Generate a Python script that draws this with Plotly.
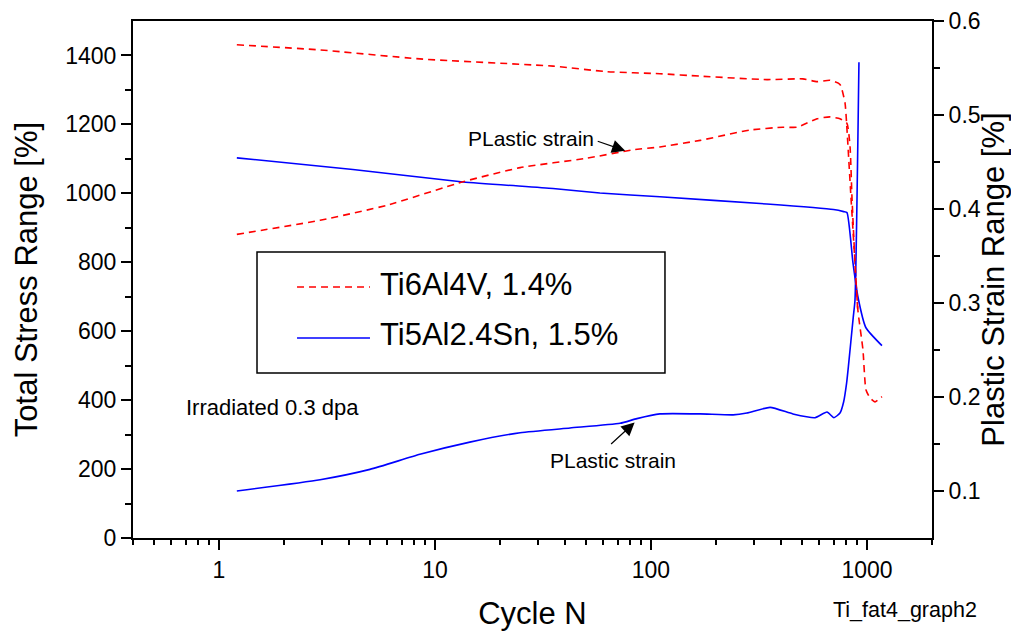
import numpy as np
import plotly.graph_objects as go

# Ti6Al4V, 1.4 % total strain -- total stress range (left axis)
ti64_stress_n = [1.21, 2.94, 8.52, 35.2, 62.5, 110, 169, 344, 505, 587, 674, 750,
                 791, 808, 843, 880, 908, 958, 989, 1032, 1089, 1173]
ti64_stress = [1431, 1416, 1390, 1369, 1353, 1347, 1340, 1330, 1332, 1324, 1328, 1316,
               1263, 1185, 990, 799, 660, 546, 430, 407, 395, 410]

# Ti6Al4V -- plastic strain range (right axis)
ti64_plastic_n = [1.21, 2.94, 6.0, 13.5, 24.8, 50.5, 82.5, 110, 169, 287, 408, 474,
                  587, 674, 750, 808, 835, 852, 880, 908]
ti64_plastic = [0.373, 0.388, 0.404, 0.429, 0.444, 0.454, 0.463, 0.466, 0.473, 0.484,
                0.487, 0.487, 0.496, 0.498, 0.496, 0.491, 0.466, 0.413, 0.343, 0.289]

# Ti5Al2.4Sn, 1.5 % total strain -- total stress range (left axis)
ti5_stress_n = [1.21, 4.17, 13.5, 35.2, 58, 110, 344, 700, 780, 808, 861, 908, 989, 1173]
ti5_stress = [1103, 1069, 1033, 1014, 1001, 990, 969, 953, 947, 944, 799, 700, 610, 558]

# Ti5Al2.4Sn -- plastic strain range (right axis)
ti5_plastic_n = [1.21, 2.94, 5.0, 8.52, 14.5, 24.8, 42.2, 71.9, 86.1, 110, 169, 240,
                 278, 356, 454, 575, 653, 703, 750, 780, 805, 820, 864, 880, 918]
ti5_plastic = [0.100, 0.112, 0.123, 0.139, 0.152, 0.162, 0.167, 0.172, 0.177, 0.182,
               0.182, 0.181, 0.183, 0.189, 0.182, 0.178, 0.184, 0.178, 0.183, 0.195,
               0.215, 0.232, 0.285, 0.303, 0.556]

# Axis ticks
x_major = [1, 10, 100, 1000]
x_major_text = ["1", "10", "100", "1000"]
y_major = [0, 200, 400, 600, 800, 1000, 1200, 1400]
y2_major = [0.1, 0.2, 0.3, 0.4, 0.5, 0.6]

RED = "#FF0000"
BLUE = "#0000FF"
FONT = "Arial, 'Liberation Sans', sans-serif"
DASH = "7px,5px"
SMOOTH = 0.5

fig = go.Figure()

fig.add_trace(go.Scatter(x=ti5_stress_n, y=ti5_stress, mode="lines",
                         name="Ti5Al2.4Sn, 1.5%", showlegend=False,
                         line=dict(color=BLUE, width=1.6, shape="spline", smoothing=SMOOTH)))
fig.add_trace(go.Scatter(x=ti64_stress_n, y=ti64_stress, mode="lines",
                         name="Ti6Al4V, 1.4%", showlegend=False,
                         line=dict(color=RED, width=1.6, dash=DASH, shape="spline",
                                   smoothing=SMOOTH)))
fig.add_trace(go.Scatter(x=ti5_plastic_n, y=ti5_plastic, mode="lines", yaxis="y2",
                         name="Ti5Al2.4Sn, 1.5% (plastic)", showlegend=False,
                         line=dict(color=BLUE, width=1.6, shape="spline", smoothing=SMOOTH)))
fig.add_trace(go.Scatter(x=ti64_plastic_n, y=ti64_plastic, mode="lines", yaxis="y2",
                         name="Ti6Al4V, 1.4% (plastic)", showlegend=False,
                         line=dict(color=RED, width=1.6, dash=DASH, shape="spline",
                                   smoothing=SMOOTH)))

# minor tick positions on the log axis
x_minor = [m * 10.0 ** d for d in range(-1, 4) for m in range(2, 10)
           if 0.4 <= m * 10.0 ** d <= 2000]

axis_common = dict(showgrid=False, zeroline=False, showline=True, linecolor="black",
                   linewidth=2, ticks="outside", tickcolor="black", tickwidth=2,
                   ticklen=10, automargin=False,
                   tickfont=dict(family=FONT, size=23, color="black"))
TITLE_FONT = dict(family=FONT, size=31, color="black")

fig.update_layout(
    width=1011, height=635,
    margin=dict(l=133, r=79, t=21, b=97, autoexpand=False),
    paper_bgcolor="white", plot_bgcolor="white",
    font=dict(family=FONT, color="black"),
    showlegend=False,
    xaxis=dict(type="log", range=[np.log10(0.4), np.log10(2000)],
               tickmode="array", tickvals=x_major, ticktext=x_major_text,
               mirror=True,
               minor=dict(tickmode="array", tickvals=x_minor, ticks="outside",
                          ticklen=5, tickwidth=1.5, tickcolor="black"),
               title=dict(text="Cycle N", font=TITLE_FONT, standoff=21),
               **axis_common),
    yaxis=dict(range=[0, 1500], tickmode="array", tickvals=y_major,
               minor=dict(tickmode="array", tickvals=[100, 300, 500, 700, 900, 1100, 1300],
                          ticks="outside", ticklen=6, tickwidth=1.5, tickcolor="black"),
               title=dict(text="Total Stress Range [%]", font=TITLE_FONT, standoff=18),
               **axis_common),
    yaxis2=dict(overlaying="y", side="right", anchor="x", range=[0.05, 0.6],
                tickmode="array", tickvals=y2_major, tickformat=".1f",
                minor=dict(tickmode="array", tickvals=[0.15, 0.25, 0.35, 0.45, 0.55],
                           ticks="outside", ticklen=6, tickwidth=1.5, tickcolor="black"),
                title=dict(text="Plastic Strain Range [%]", font=TITLE_FONT, standoff=10),
                **axis_common),
)

# Legend box drawn by hand so the line samples have their full length
fig.add_shape(type="rect", xref="paper", yref="paper", x0=0.1552, x1=0.6658,
              y0=0.3191, y1=0.5532, line=dict(color="black", width=1.5),
              fillcolor="rgba(0,0,0,0)")
fig.add_shape(type="line", xref="paper", yref="paper", x0=0.2053, x1=0.2966,
              y0=0.4855, y1=0.4855, line=dict(color=RED, width=1.6, dash=DASH))
fig.add_shape(type="line", xref="paper", yref="paper", x0=0.2053, x1=0.2966,
              y0=0.3868, y1=0.3868, line=dict(color=BLUE, width=1.6))
fig.add_annotation(xref="paper", yref="paper", x=0.3066, y=0.4894, text="Ti6Al4V, 1.4%",
                   showarrow=False, xanchor="left", yanchor="middle",
                   font=dict(family=FONT, size=31))
fig.add_annotation(xref="paper", yref="paper", x=0.3066, y=0.3932, text="Ti5Al2.4Sn, 1.5%",
                   showarrow=False, xanchor="left", yanchor="middle",
                   font=dict(family=FONT, size=31))

# Text labels
fig.add_annotation(xref="x", yref="y", x=np.log10(0.69), y=378, text="Irradiated 0.3 dpa",
                   showarrow=False, xanchor="left", yanchor="middle",
                   font=dict(family=FONT, size=22))
fig.add_annotation(xref="x", yref="y", x=1.444, y=1159, text="PLastic strain",
                   showarrow=False, xanchor="center", yanchor="middle",
                   font=dict(family=FONT, size=21))
fig.add_annotation(xref="x", yref="y2", x=np.log10(76), y=0.462, text="",
                   showarrow=True, ax=-29, ay=-10, arrowhead=2, arrowsize=2.2,
                   arrowwidth=1.2, arrowcolor="black")
fig.add_annotation(xref="x", yref="y", x=1.824, y=226, text="PLastic strain",
                   showarrow=False, xanchor="center", yanchor="middle",
                   font=dict(family=FONT, size=21))
fig.add_annotation(xref="x", yref="y2", x=np.log10(84), y=0.173, text="",
                   showarrow=True, ax=-25, ay=23, arrowhead=2, arrowsize=2.2,
                   arrowwidth=1.2, arrowcolor="black")
fig.add_annotation(xref="paper", yref="paper", x=(904.5 - 133) / 799, y=(538 - 610) / 517,
                   text="Ti_fat4_graph2", showarrow=False, xanchor="center",
                   yanchor="middle", font=dict(family=FONT, size=21.5))

fig.write_html("out.html")
